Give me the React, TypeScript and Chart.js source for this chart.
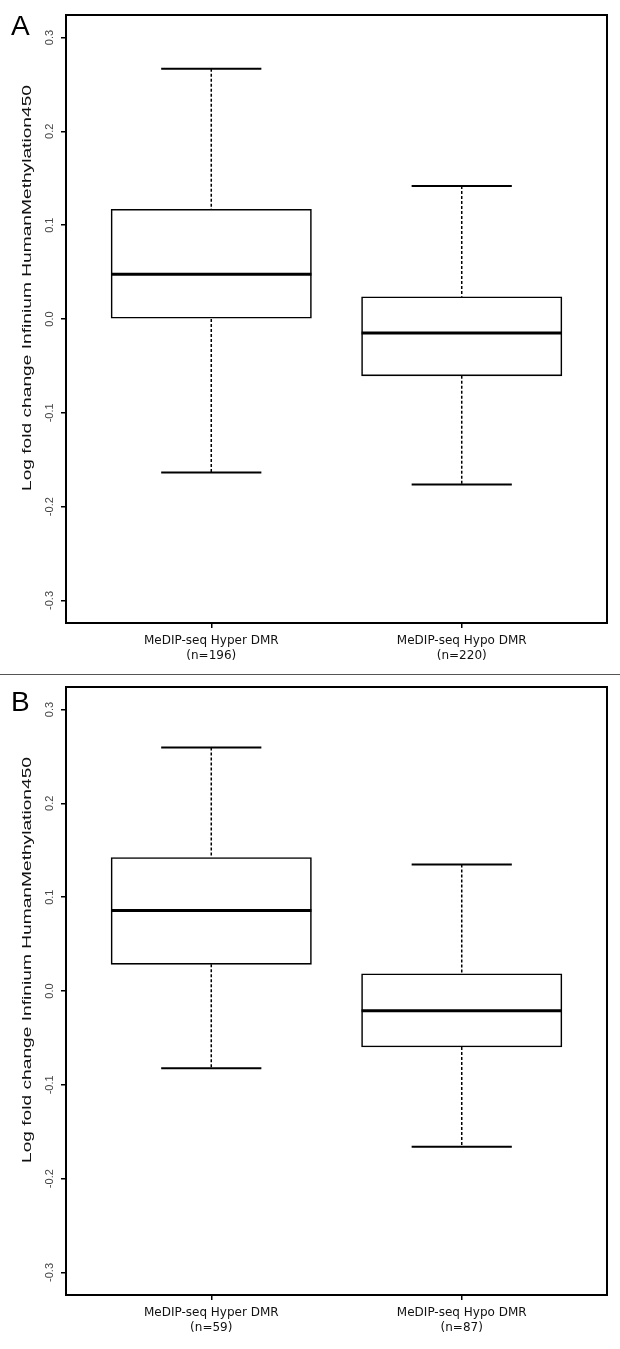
import React, { useEffect, useRef } from 'react';
import { Chart, registerables } from 'chart.js';
Chart.register(...registerables);

const categories = ['MeDIP-seq Hyper DMR', 'MeDIP-seq Hypo DMR'];
const positions = [1, 2];
const countsA = [196, 220];
const countsB = [59, 87];

const lowA = [-0.1635, -0.1763];
const q1A = [0.0, -0.0606];
const medA = [0.0476, -0.0149];
const q3A = [0.117, 0.0237];
const highA = [0.2667, 0.1418];

const lowB = [-0.0822, -0.166];
const q1B = [0.0284, -0.0596];
const medB = [0.0858, -0.021];
const q3B = [0.1422, 0.0184];
const highB = [0.2596, 0.1348];

const yTicks = [-0.3, -0.2, -0.1, 0, 0.1, 0.2, 0.3];
const yTickLabels = ['-0.3', '-0.2', '-0.1', '0.0', '0.1', '0.2', '0.3'];
const yTitle = 'Log fold change Infinium HumanMethylation450';
const Y_MIN = -0.324;
const Y_MAX = 0.324;
const X_MIN = 0.42;
const X_MAX = 2.58;
const BOX_W = 0.8;
const CAP_W = 0.4;

function makeConfig(letter: string, counts: number[], low: number[], q1: number[], med: number[], q3: number[], high: number[], padTop: number, padBottom: number, letterBase: number): any {
  const whiskers: any[] = [];
  const caps: any[] = [];
  const medians: any[] = [];
  positions.forEach((p, i) => {
    whiskers.push({ x: p, y: high[i] }, { x: p, y: q3[i] }, { x: p, y: null });
    whiskers.push({ x: p, y: q1[i] }, { x: p, y: low[i] }, { x: p, y: null });
    caps.push({ x: p - CAP_W / 2, y: high[i] }, { x: p + CAP_W / 2, y: high[i] }, { x: p, y: null });
    caps.push({ x: p - CAP_W / 2, y: low[i] }, { x: p + CAP_W / 2, y: low[i] }, { x: p, y: null });
    medians.push({ x: p - BOX_W / 2, y: med[i] }, { x: p + BOX_W / 2, y: med[i] }, { x: p, y: null });
  });
  const boxes = positions.map((p, i) => ({ x: p, y: [q1[i], q3[i]] }));

  const decor = {
    id: 'decor' + letter,
    afterDraw(chart: any) {
      const { ctx, chartArea: a } = chart;
      ctx.save();
      ctx.strokeStyle = '#000';
      ctx.lineWidth = 2;
      ctx.strokeRect(a.left, a.top, a.right - a.left, a.bottom - a.top);
      ctx.fillStyle = '#000';
      ctx.font = '28px "Liberation Sans", Arial, sans-serif';
      ctx.textAlign = 'left';
      ctx.textBaseline = 'alphabetic';
      ctx.fillText(letter, 11, letterBase);
      ctx.translate(30.5, a.top + 273);
      ctx.rotate(-Math.PI / 2);
      ctx.scale(1.42, 1);
      ctx.font = '13.5px "Liberation Sans", Arial, sans-serif';
      ctx.textAlign = 'center';
      ctx.fillStyle = '#111';
      ctx.fillText(yTitle, 0, 0);
      ctx.restore();
    },
  };

  return {
    type: 'bar',
    data: {
      datasets: [
        {
          type: 'line', data: medians, borderColor: '#000', borderWidth: 3, pointRadius: 0,
          spanGaps: false, fill: false, order: 0, borderCapStyle: 'butt',
        },
        {
          type: 'line', data: caps, borderColor: '#000', borderWidth: 2, pointRadius: 0,
          spanGaps: false, fill: false, order: 1,
        },
        {
          type: 'line', data: whiskers, borderColor: '#000', borderWidth: 1.5, pointRadius: 0,
          borderDash: [3, 2], spanGaps: false, fill: false, order: 1,
        },
        {
          type: 'bar', data: boxes, backgroundColor: '#fff', borderColor: '#000', borderWidth: 1.6,
          borderSkipped: false, order: 2,
          barThickness: (c: any) => {
            const s = c.chart.scales && c.chart.scales.x;
            if (!s || !isFinite(s.getPixelForValue(BOX_W))) return 200;
            return Math.abs(s.getPixelForValue(BOX_W) - s.getPixelForValue(0));
          },
        },
      ],
    },
    options: {
      responsive: false,
      animation: false,
      layout: { padding: { top: padTop, bottom: padBottom, left: 0, right: 13 } },
      plugins: { legend: { display: false }, tooltip: { enabled: false } },
      scales: {
        x: {
          type: 'linear',
          min: X_MIN,
          max: X_MAX,
          offset: false,
          afterBuildTicks: (scale: any) => { scale.ticks = positions.map((v) => ({ value: v })); },
          afterFit: (scale: any) => { scale.height = 40; },
          grid: { display: true, offset: false, drawOnChartArea: false, drawTicks: true, tickLength: 5, color: '#000', lineWidth: 1.5 },
          border: { display: false },
          ticks: {
            autoSkip: false, maxRotation: 0, minRotation: 0, padding: 6, color: '#111',
            font: { family: '"DejaVu Sans", sans-serif', size: 12 },
            callback: (value: number) => {
              const i = positions.indexOf(value);
              return i < 0 ? '' : [categories[i], '(n=' + counts[i] + ')'];
            },
          },
        },
        y: {
          type: 'linear',
          min: Y_MIN,
          max: Y_MAX,
          afterBuildTicks: (scale: any) => { scale.ticks = yTicks.map((v) => ({ value: v })); },
          afterFit: (scale: any) => { scale.width = 66; },
          grid: { display: true, drawOnChartArea: false, drawTicks: true, tickLength: 5, color: '#000', lineWidth: 1.5 },
          border: { display: false },
          ticks: {
            minRotation: 90, maxRotation: 90, crossAlign: 'center', padding: 2, color: '#444',
            font: { family: '"Liberation Sans", Arial, sans-serif', size: 11 },
            callback: (value: number) => {
              const i = yTicks.findIndex((t) => Math.abs(t - value) < 1e-9);
              return i < 0 ? '' : yTickLabels[i];
            },
          },
        },
      },
    },
    plugins: [decor],
  };
}

export default function App() {
  const refA = useRef<HTMLCanvasElement>(null);
  const refB = useRef<HTMLCanvasElement>(null);
  useEffect(() => {
    document.body.style.margin = '0';
    const a = new Chart(refA.current as HTMLCanvasElement, makeConfig('A', countsA, lowA, q1A, medA, q3A, highA, 15, 11, 35));
    const b = new Chart(refB.current as HTMLCanvasElement, makeConfig('B', countsB, lowB, q1B, medB, q3B, highB, 12, 14, 36));
    return () => { a.destroy(); b.destroy(); };
  }, []);
  return (
    <div style={{ position: 'relative', width: 620, height: 1349, background: '#fff' }}>
      <canvas ref={refA} width={620} height={674} style={{ position: 'absolute', left: 0, top: 0, display: 'block' }} />
      <div style={{ position: 'absolute', left: 0, top: 674, width: 620, height: 1, background: '#555' }} />
      <canvas ref={refB} width={620} height={674} style={{ position: 'absolute', left: 0, top: 675, display: 'block' }} />
    </div>
  );
}
